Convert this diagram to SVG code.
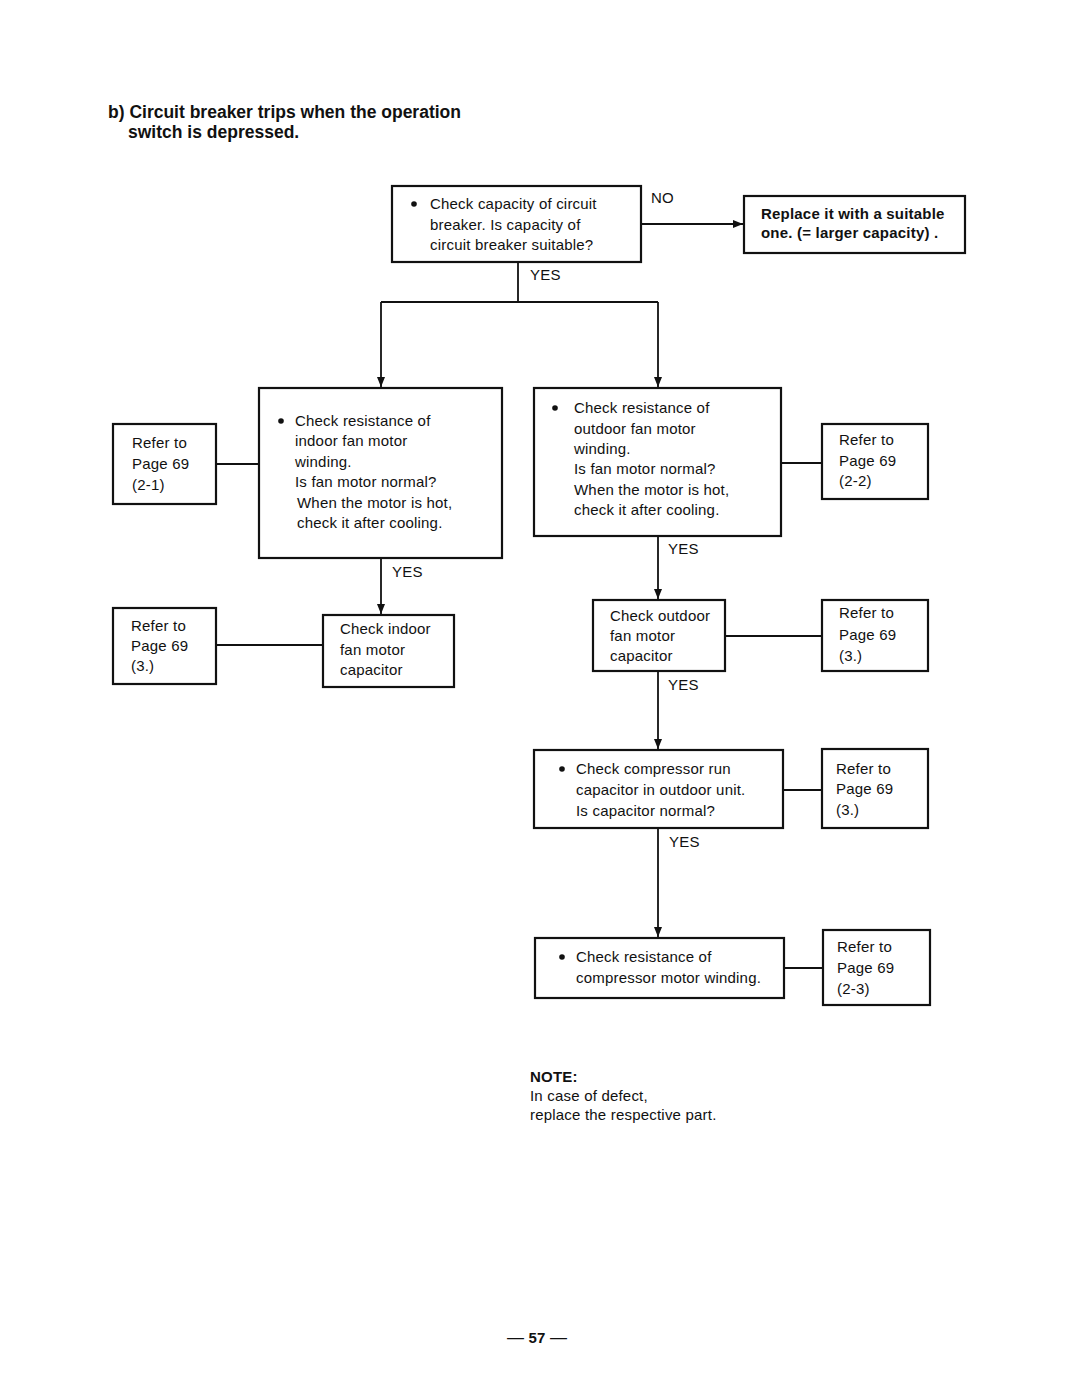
<svg xmlns="http://www.w3.org/2000/svg" width="1080" height="1397" viewBox="0 0 1080 1397">
<style>
text{font-family:"Liberation Sans",Arial,sans-serif;font-size:15px;letter-spacing:0.2px;fill:#111}
.t{font-size:17.5px;font-weight:bold;letter-spacing:0}
.b{fill:#fff;stroke:#111;stroke-width:2.2}
.c{stroke:#111;stroke-width:1.8;fill:none}
.bd{font-weight:bold}
</style>
<defs>
<marker id="ah" markerWidth="11" markerHeight="11" refX="10" refY="5.5" orient="auto" markerUnits="userSpaceOnUse"><path d="M0,1.5 L10,5.5 L0,9.5 Z" fill="#111"/></marker>
</defs>
<rect width="1080" height="1397" fill="#fff"/>
<text class="t" x="108" y="118">b) Circuit breaker trips when the operation</text>
<text class="t" x="128" y="138">switch is depressed.</text>

<g id="connectors">
<line class="c" x1="641" y1="224" x2="743" y2="224" marker-end="url(#ah)"/>
<text x="651" y="203">NO</text>
<polyline class="c" points="518,262 518,302"/>
<text x="530" y="280">YES</text>
<polyline class="c" points="381,302 658,302"/>
<line class="c" x1="381" y1="302" x2="381" y2="387" marker-end="url(#ah)"/>
<line class="c" x1="658" y1="302" x2="658" y2="387" marker-end="url(#ah)"/>
<line class="c" x1="216" y1="464" x2="259" y2="464"/>
<line class="c" x1="381" y1="558" x2="381" y2="614" marker-end="url(#ah)"/>
<text x="392" y="577">YES</text>
<line class="c" x1="216" y1="645" x2="323" y2="645"/>
<line class="c" x1="781" y1="463" x2="822" y2="463"/>
<line class="c" x1="658" y1="536" x2="658" y2="599" marker-end="url(#ah)"/>
<text x="668" y="554">YES</text>
<line class="c" x1="725" y1="636" x2="822" y2="636"/>
<line class="c" x1="658" y1="671" x2="658" y2="749" marker-end="url(#ah)"/>
<text x="668" y="690">YES</text>
<line class="c" x1="783" y1="790" x2="822" y2="790"/>
<line class="c" x1="658" y1="828" x2="658" y2="937" marker-end="url(#ah)"/>
<text x="669" y="847">YES</text>
<line class="c" x1="784" y1="968" x2="823" y2="968"/>
</g>

<g id="n-capacity">
<rect class="b" x="392" y="186" width="249" height="76"/>
<circle cx="414" cy="204" r="2.8" fill="#111"/>
<text x="430" y="209">Check capacity of circuit</text>
<text x="430" y="230">breaker. Is capacity of</text>
<text x="430" y="250">circuit breaker suitable?</text>
</g>
<g id="n-replace">
<rect class="b" x="744" y="196" width="221" height="57"/>
<text x="761" y="219" class="bd" font-size="15">Replace it with a suitable</text>
<text x="761" y="238" class="bd" font-size="14" letter-spacing="0.9">one. (= larger capacity) .</text>
</g>
<g id="n-indoor">
<rect class="b" x="259" y="388" width="243" height="170"/>
<circle cx="281" cy="421" r="2.8" fill="#111"/>
<text x="295" y="426">Check resistance of</text>
<text x="295" y="446">indoor fan motor</text>
<text x="295" y="467">winding.</text>
<text x="295" y="487">Is fan motor normal?</text>
<text x="297" y="508">When the motor is hot,</text>
<text x="297" y="528">check it after cooling.</text>
</g>
<g id="n-ref21">
<rect class="b" x="113" y="424" width="103" height="80"/>
<text x="132" y="448">Refer to</text>
<text x="132" y="469">Page 69</text>
<text x="132" y="490">(2-1)</text>
</g>
<g id="n-indoorcap">
<rect class="b" x="323" y="615" width="131" height="72"/>
<text x="340" y="634" font-size="14">Check indoor</text>
<text x="340" y="655">fan motor</text>
<text x="340" y="675">capacitor</text>
</g>
<g id="n-ref3a">
<rect class="b" x="113" y="608" width="103" height="76"/>
<text x="131" y="631">Refer to</text>
<text x="131" y="651">Page 69</text>
<text x="131" y="671">(3.)</text>
</g>
<g id="n-outdoor">
<rect class="b" x="534" y="388" width="247" height="148"/>
<circle cx="555" cy="408" r="2.8" fill="#111"/>
<text x="574" y="413">Check resistance of</text>
<text x="574" y="434" font-size="14">outdoor fan motor</text>
<text x="574" y="454">winding.</text>
<text x="574" y="474">Is fan motor normal?</text>
<text x="574" y="495">When the motor is hot,</text>
<text x="574" y="515">check it after cooling.</text>
</g>
<g id="n-ref22">
<rect class="b" x="822" y="424" width="106" height="75"/>
<text x="839" y="445">Refer to</text>
<text x="839" y="466">Page 69</text>
<text x="839" y="486">(2-2)</text>
</g>
<g id="n-outdoorcap">
<rect class="b" x="593" y="600" width="132" height="71"/>
<text x="610" y="621">Check outdoor</text>
<text x="610" y="641">fan motor</text>
<text x="610" y="661">capacitor</text>
</g>
<g id="n-ref3b">
<rect class="b" x="822" y="600" width="106" height="71"/>
<text x="839" y="618">Refer to</text>
<text x="839" y="640">Page 69</text>
<text x="839" y="661">(3.)</text>
</g>
<g id="n-runcap">
<rect class="b" x="534" y="750" width="249" height="78"/>
<circle cx="562" cy="769" r="2.8" fill="#111"/>
<text x="576" y="774">Check compressor run</text>
<text x="576" y="795">capacitor in outdoor unit.</text>
<text x="576" y="816">Is capacitor normal?</text>
</g>
<g id="n-ref3c">
<rect class="b" x="822" y="749" width="106" height="79"/>
<text x="836" y="774">Refer to</text>
<text x="836" y="794">Page 69</text>
<text x="836" y="815">(3.)</text>
</g>
<g id="n-compwind">
<rect class="b" x="535" y="938" width="249" height="60"/>
<circle cx="562" cy="957" r="2.8" fill="#111"/>
<text x="576" y="962">Check resistance of</text>
<text x="576" y="983">compressor motor winding.</text>
</g>
<g id="n-ref23">
<rect class="b" x="823" y="930" width="107" height="75"/>
<text x="837" y="952">Refer to</text>
<text x="837" y="973">Page 69</text>
<text x="837" y="994">(2-3)</text>
</g>

<text x="530" y="1082" class="bd" font-size="15">NOTE:</text>
<text x="530" y="1101" font-size="14.5">In case of defect,</text>
<text x="530" y="1120" font-size="14.5">replace the respective part.</text>
<text x="537" y="1343" text-anchor="middle" font-size="17"><tspan font-size="17">—</tspan> <tspan class="bd">57</tspan> <tspan font-size="17">—</tspan></text>
</svg>
